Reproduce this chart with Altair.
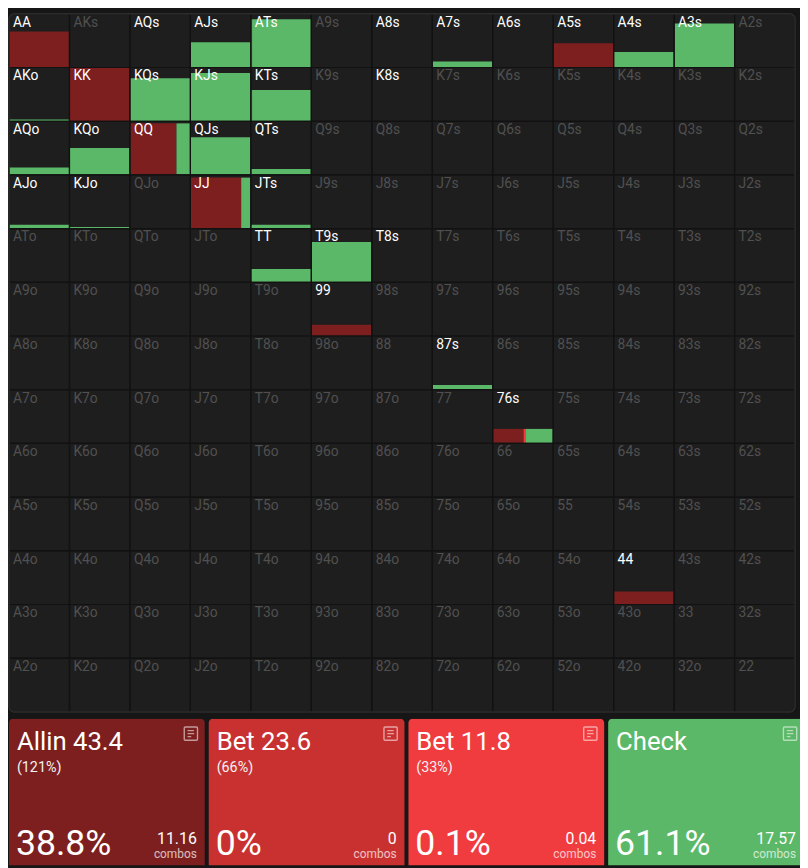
import altair as alt
import pandas as pd

# ---------------- data ----------------
ranks = list("AKQJT98765432")

# hands shown with a bright label (in range)
range_hands = ["AA", "AQs", "AJs", "ATs", "A8s", "A7s", "A6s", "A5s", "A4s", "A3s",
               "AKo", "KK", "KQs", "KJs", "KTs", "K8s",
               "AQo", "KQo", "QQ", "QJs", "QTs",
               "AJo", "KJo", "JJ", "JTs",
               "TT", "T9s", "T8s", "99", "87s", "76s", "44"]

# hands with a visible bar: weight in range and strategy split
bar_hands = ["AA", "AJs", "ATs", "A7s", "A5s", "A4s", "A3s",
             "AKo", "KK", "KQs", "KJs", "KTs",
             "AQo", "KQo", "QQ", "QJs", "QTs",
             "AJo", "KJo", "JJ", "JTs",
             "TT", "T9s", "99", "87s", "76s", "44"]
bar_weight = [0.67, 0.47, 0.90, 0.11, 0.45, 0.29, 0.82,
              0.03, 1.00, 0.80, 0.90, 0.58,
              0.14, 0.50, 0.96, 0.70, 0.11,
              0.07, 0.03, 0.95, 0.07,
              0.25, 0.75, 0.21, 0.09, 0.27, 0.24]
allin_share = [1.00, 0.00, 0.00, 0.00, 1.00, 0.00, 0.00,
               0.00, 1.00, 0.00, 0.00, 0.00,
               0.00, 0.00, 0.77, 0.00, 0.00,
               0.00, 0.00, 0.84, 0.00,
               0.00, 0.00, 1.00, 0.00, 0.51, 1.00]
bet236_share = [0.0] * 27
bet118_share = [0.00, 0.00, 0.02, 0.00, 0.00, 0.00, 0.00,
                0.00, 0.00, 0.00, 0.00, 0.02,
                0.00, 0.00, 0.00, 0.00, 0.00,
                0.00, 0.00, 0.00, 0.00,
                0.00, 0.00, 0.00, 0.00, 0.03, 0.00]

actions = ["Allin 43.4", "Bet 23.6", "Bet 11.8", "Check"]
action_sizes = ["(121%)", "(66%)", "(33%)", ""]
action_freq = ["38.8%", "0%", "0.1%", "61.1%"]
action_combos = ["11.16", "0", "0.04", "17.57"]
action_colors = ["#7d1f1f", "#c93131", "#f03b3f", "#5bb868"]

# ---------------- tables ----------------
def hand_label(r, c):
    if r == c:
        return ranks[r] * 2
    if c > r:
        return ranks[r] + ranks[c] + "s"
    return ranks[c] + ranks[r] + "o"

cells = []
pos = {}
for r in range(13):
    for c in range(13):
        h = hand_label(r, c)
        pos[h] = (r, c)
        cells.append({"hand": h, "row": r, "row2": r + 1, "col": c, "col2": c + 1,
                      "active": "yes" if h in range_hands else "no"})
cells_df = pd.DataFrame(cells)

bars = []
for i, h in enumerate(bar_hands):
    r, c = pos[h]
    shares = [allin_share[i], bet236_share[i], bet118_share[i]]
    shares.append(max(0.0, 1 - sum(shares)))
    start = 0.0
    for a, s in zip(actions, shares):
        if s > 0:
            bars.append({"hand": h, "action": a,
                         "x": c + start, "x2": c + start + s,
                         "y": r + 1 - bar_weight[i], "y2": r + 1})
            start += s
bars_df = pd.DataFrame(bars)

cards_df = pd.DataFrame({"action": actions, "size": action_sizes, "freq": action_freq,
                         "combos": action_combos, "i": list(range(4))})
cards_df["i2"] = cards_df["i"] + 0.98
cards_df["label"] = "combos"

# ---------------- grid ----------------
GW, GH = 795, 706
xs = alt.Scale(domain=[0, 13], nice=False, zero=False)
ys = alt.Scale(domain=[0, 13], nice=False, zero=False, reverse=True)
color = alt.Color("action:N", scale=alt.Scale(domain=actions, range=action_colors), legend=None)

base_cells = alt.Chart(cells_df)
cell_bg = base_cells.mark_rect(fill="#1e1e1e").encode(
    x=alt.X("col:Q", scale=xs, axis=None), x2="col2:Q",
    y=alt.Y("row:Q", scale=ys, axis=None), y2="row2:Q")
bar_layer = alt.Chart(bars_df).mark_rect().encode(
    x=alt.X("x:Q", scale=xs, axis=None), x2="x2:Q",
    y=alt.Y("y:Q", scale=ys, axis=None), y2="y2:Q", color=color)
cell_lines = base_cells.mark_rect(fill=None, stroke="#121212", strokeWidth=1.2).encode(
    x=alt.X("col:Q", scale=xs, axis=None), x2="col2:Q",
    y=alt.Y("row:Q", scale=ys, axis=None), y2="row2:Q")
labels = base_cells.mark_text(align="left", baseline="top", dx=4, dy=2,
                              font="Roboto", fontSize=14).encode(
    x=alt.X("col:Q", scale=xs, axis=None),
    y=alt.Y("row:Q", scale=ys, axis=None),
    text="hand:N",
    color=alt.condition(alt.datum.active == "yes", alt.value("#ffffff"), alt.value("#505050")))
frame = alt.Chart(pd.DataFrame({"a": [0]})).mark_rect(
    fill=None, stroke="#2c2c2c", strokeWidth=1.5, cornerRadius=5).encode(
    x=alt.value(0), x2=alt.value(GW), y=alt.value(0), y2=alt.value(GH))

grid = alt.layer(cell_bg, bar_layer, cell_lines, labels, frame).properties(width=GW, height=GH)

# ---------------- action cards ----------------
CW, CH = 800, 148
cx = alt.Scale(domain=[0, 800 / 202], nice=False, zero=False)
base_cards = alt.Chart(cards_df)
card_rect = base_cards.mark_rect(cornerRadius=4, clip=True).encode(
    x=alt.X("i:Q", scale=cx, axis=None), x2="i2:Q",
    y=alt.value(0), y2=alt.value(CH + 6),
    color=alt.Color("action:N", scale=alt.Scale(domain=actions, range=action_colors), legend=None))
title = base_cards.mark_text(align="left", baseline="alphabetic", dx=8, font="Roboto",
                             fontSize=26, color="#ffffff", clip=True).encode(
    x=alt.X("i:Q", scale=cx, axis=None), y=alt.value(32), text="action:N")
size_t = base_cards.mark_text(align="left", baseline="alphabetic", dx=8, font="Roboto",
                              fontSize=14.5, color="#f2f2f2", clip=True).encode(
    x=alt.X("i:Q", scale=cx, axis=None), y=alt.value(54), text="size:N")
freq_t = base_cards.mark_text(align="left", baseline="alphabetic", dx=7, font="Roboto",
                              fontSize=36, color="#ffffff", clip=True).encode(
    x=alt.X("i:Q", scale=cx, axis=None), y=alt.value(138), text="freq:N")
combo_t = base_cards.mark_text(align="right", baseline="alphabetic", dx=-8, font="Roboto",
                               fontSize=16, color="#ffffff", clip=True).encode(
    x=alt.X("i2:Q", scale=cx, axis=None), y=alt.value(127), text="combos:N")
combo_l = base_cards.mark_text(align="right", baseline="alphabetic", dx=-8, font="Roboto",
                               fontSize=12, color="#ffffff", opacity=0.7, clip=True).encode(
    x=alt.X("i2:Q", scale=cx, axis=None), y=alt.value(141), text="label:N")
icon_path = ("M-0.85,-1 H0.85 Q1,-1 1,-0.85 V0.85 Q1,1 0.85,1 H-0.85 Q-1,1 -1,0.85 "
             "V-0.85 Q-1,-1 -0.85,-1 Z M-0.5,-0.45 H0.45 M-0.5,0 H0.5 M-0.5,0.45 H0.05")
icon = base_cards.mark_point(shape=icon_path, filled=False, stroke="#ffffff", opacity=0.55,
                             strokeWidth=1.4, size=180, clip=True).encode(
    x=alt.X("i2:Q", scale=cx, axis=None), y=alt.value(15), xOffset=alt.value(-14))

cards = alt.layer(card_rect, title, size_t, freq_t, combo_t, combo_l, icon).properties(
    width=CW, height=CH)

chart = alt.vconcat(grid, cards, spacing=6).properties(
    padding=0, background="#161616"
).configure_view(stroke=None).configure_concat(spacing=6)

chart.save("out.html", embed_options={"renderer": "svg", "actions": False})
